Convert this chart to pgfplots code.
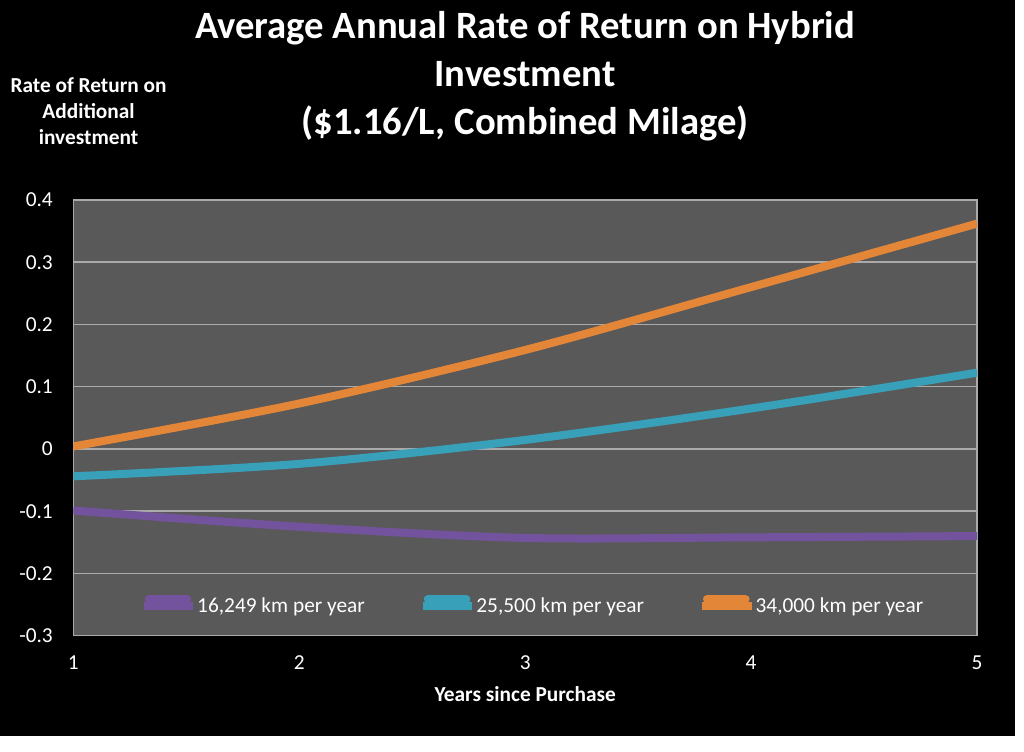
\documentclass[border=0pt]{standalone}
\usepackage{fontspec}
\setmainfont{Carlito}
\usepackage{pgfplots}
\pgfplotsset{compat=1.18}
\definecolor{plotbg}{RGB}{89,89,89}
\definecolor{gridc}{RGB}{170,170,170}
\definecolor{cpurple}{RGB}{116,83,158}
\definecolor{cteal}{RGB}{56,160,185}
\definecolor{corange}{RGB}{228,134,56}
\begin{document}
\begin{tikzpicture}
\useasboundingbox (0,0) rectangle (768pt,563.25pt);
\fill[white] (0,0) rectangle (768pt,563.25pt);
\fill[black] (0,11.25pt) rectangle (761.25pt,563.25pt);
\begin{axis}[
  at={(55pt,86.5pt)}, anchor=south west,
  scale only axis, width=677.8pt, height=326.8pt,
  xmin=1, xmax=5, ymin=-0.3, ymax=0.4,
  xtick={1,2,3,4,5}, xticklabels={1,2,3,4,5},
  ytick={-0.3,-0.2,-0.1,0,0.1,0.2,0.3,0.4},
  yticklabels={-0.3,-0.2,-0.1,0,0.1,0.2,0.3,0.4},
  major tick length=0pt,
  axis background/.style={fill=plotbg},
  axis line style={gridc, line width=1.1pt},
  ymajorgrids, grid style={gridc, line width=1.1pt},
  tick label style={font=\fontsize{16}{19}\selectfont, text=white, inner sep=0pt},
  x tick label style={anchor=base, yshift=-25.5pt},
  y tick label style={anchor=base east, xshift=-15.2pt, yshift=-5.25pt},
  xlabel={Years since Purchase},
  xlabel style={at={(axis description cs:0.5,0)}, anchor=base, yshift=-49pt,
    font=\bfseries\fontsize{16}{19}\selectfont, text=white},
  legend columns=3,
  legend cell align=left,
  legend image code/.code={%
    \path (0pt,0pt) -- (37pt,0pt);
    \fill[#1, draw=none, rounded corners=2.9pt] (0.5pt,2.6pt) rectangle (35.5pt,8.4pt);},
  legend style={at={(axis description cs:0.507,0.0705)}, anchor=center,
    draw=none, fill=none, inner sep=0pt,
    nodes={inner sep=0pt, text=white, font=\fontsize{16}{19}\selectfont},
    /tikz/every even column/.append style={column sep=40.75pt}},
]
\addplot[cpurple, line width=6pt, smooth] coordinates {
  (1,-0.099) (2,-0.125) (3,-0.143) (4,-0.142) (5,-0.140)};
\addlegendentry{16,249 km per year}
\addplot[cteal, line width=6pt, smooth] coordinates {
  (1,-0.044) (2,-0.024) (3,0.0145) (4,0.065) (5,0.1225)};
\addlegendentry{25,500 km per year}
\addplot[corange, line width=6pt, smooth] coordinates {
  (1,0.004) (2,0.073) (3,0.159) (4,0.260) (5,0.362)};
\addlegendentry{34,000 km per year}
\end{axis}
\begin{scope}[text=white]
\node[anchor=base, font=\bfseries\fontsize{29}{35}\selectfont] at (393.75pt,534pt) {Average Annual Rate of Return on Hybrid};
\node[anchor=base, font=\bfseries\fontsize{29}{35}\selectfont] at (393.75pt,498pt) {Investment};
\node[anchor=base, font=\bfseries\fontsize{29}{35}\selectfont] at (393.75pt,462pt) {(\$1.16/L, Combined Milage)};
\node[anchor=base, font=\bfseries\fontsize{16}{19}\selectfont] at (66.4pt,493.7pt) {Rate of Return on};
\node[anchor=base, font=\bfseries\fontsize{16}{19}\selectfont] at (66.4pt,474pt) {Additional};
\node[anchor=base, font=\bfseries\fontsize{16}{19}\selectfont] at (66.4pt,454.5pt) {investment};
\end{scope}
\end{tikzpicture}
\end{document}
